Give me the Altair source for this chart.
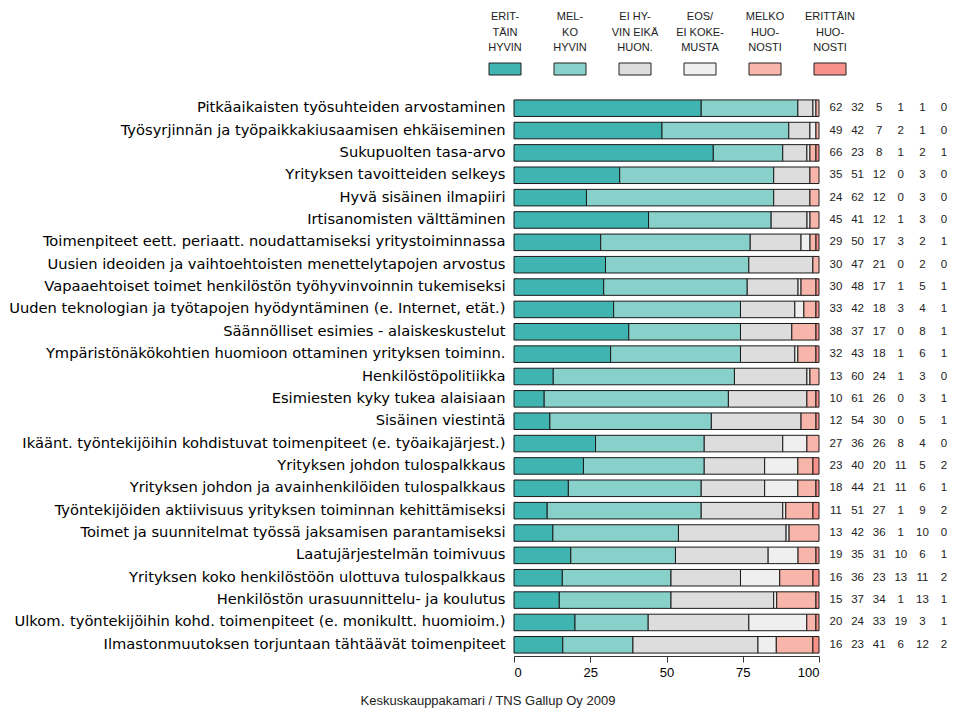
import altair as alt
import pandas as pd

labels = [
    "Pitkäaikaisten työsuhteiden arvostaminen",
    "Työsyrjinnän ja työpaikkakiusaamisen ehkäiseminen",
    "Sukupuolten tasa-arvo",
    "Yrityksen tavoitteiden selkeys",
    "Hyvä sisäinen ilmapiiri",
    "Irtisanomisten välttäminen",
    "Toimenpiteet eett. periaatt. noudattamiseksi yritystoiminnassa",
    "Uusien ideoiden ja vaihtoehtoisten menettelytapojen arvostus",
    "Vapaaehtoiset toimet henkilöstön työhyvinvoinnin tukemiseksi",
    "Uuden teknologian ja työtapojen hyödyntäminen (e. Internet, etät.)",
    "Säännölliset esimies - alaiskeskustelut",
    "Ympäristönäkökohtien huomioon ottaminen yrityksen toiminn.",
    "Henkilöstöpolitiikka",
    "Esimiesten kyky tukea alaisiaan",
    "Sisäinen viestintä",
    "Ikäänt. työntekijöihin kohdistuvat toimenpiteet (e. työaikajärjest.)",
    "Yrityksen johdon tulospalkkaus",
    "Yrityksen johdon ja avainhenkilöiden tulospalkkaus",
    "Työntekijöiden aktiivisuus yrityksen toiminnan kehittämiseksi",
    "Toimet ja suunnitelmat työssä jaksamisen parantamiseksi",
    "Laatujärjestelmän toimivuus",
    "Yrityksen koko henkilöstöön ulottuva tulospalkkaus",
    "Henkilöstön urasuunnittelu- ja koulutus",
    "Ulkom. työntekijöihin kohd. toimenpiteet (e. monikultt. huomioim.)",
    "Ilmastonmuutoksen torjuntaan tähtäävät toimenpiteet",
]

categories = ["Erittäin hyvin", "Melko hyvin", "Ei hyvin eikä huonosti",
              "EOS / ei kokemusta", "Melko huonosti", "Erittäin huonosti"]
legend_labels = ["ERIT-\nTÄIN\nHYVIN", "MEL-\nKO\nHYVIN", "EI HY-\nVIN EIKÄ\nHUON.",
                 "EOS/\nEI KOKE-\nMUSTA", "MELKO\nHUO-\nNOSTI", "ERITTÄIN\nHUO-\nNOSTI"]
colors = ["#40b4b0", "#88d0ca", "#dddddd", "#efefef", "#f8b6aa", "#f7918a"]

erittain_hyvin = [62, 49, 66, 35, 24, 45, 29, 30, 30, 33, 38, 32, 13, 10, 12, 27, 23, 18, 11, 13, 19, 16, 15, 20, 16]
melko_hyvin = [32, 42, 23, 51, 62, 41, 50, 47, 48, 42, 37, 43, 60, 61, 54, 36, 40, 44, 51, 42, 35, 36, 37, 24, 23]
ei_hyvin_eika_huonosti = [5, 7, 8, 12, 12, 12, 17, 21, 17, 18, 17, 18, 24, 26, 30, 26, 20, 21, 27, 36, 31, 23, 34, 33, 41]
eos = [1, 2, 1, 0, 0, 1, 3, 0, 1, 3, 0, 1, 1, 0, 0, 8, 11, 11, 1, 1, 10, 13, 1, 19, 6]
melko_huonosti = [1, 1, 2, 3, 3, 3, 2, 2, 5, 4, 8, 6, 3, 3, 5, 4, 5, 6, 9, 10, 6, 11, 13, 3, 12]
erittain_huonosti = [0, 0, 1, 0, 0, 0, 1, 0, 1, 1, 1, 1, 0, 1, 1, 0, 2, 1, 2, 0, 1, 2, 1, 1, 2]

series = [erittain_hyvin, melko_hyvin, ei_hyvin_eika_huonosti, eos, melko_huonosti, erittain_huonosti]

rows = []
for i, lab in enumerate(labels):
    for j, cat in enumerate(categories):
        rows.append({"label": lab, "cat": cat, "ci": j, "value": series[j][i]})
df = pd.DataFrame(rows)
leg_df = pd.DataFrame({"cat": categories, "lab": legend_labels})

FONT = "Liberation Sans"
LABEL_FONT = "DejaVu Sans"
NARROW = "Liberation Sans Narrow, Liberation Sans"

color_scale = alt.Scale(domain=categories, range=colors)
y_axis = alt.Axis(title=None, domain=False, ticks=False, labelFontSize=14.7, labelLimit=1000,
                  labelPadding=9, labelColor="#000", labelFont=LABEL_FONT)
y_enc = alt.Y("label:N", sort=labels, axis=y_axis,
              scale=alt.Scale(paddingInner=0.26, paddingOuter=0.13))

bars = alt.Chart(df).transform_filter("datum.value > 0").mark_bar(
    stroke="#1a1a1a", strokeWidth=1
).encode(
    y=y_enc,
    x=alt.X("value:Q", stack="normalize", scale=alt.Scale(domain=[0, 1], nice=False),
            axis=alt.Axis(title=None, values=[0, 0.25, 0.5, 0.75, 1], grid=False,
                          labelExpr="format(datum.value * 100, 'd')",
                          labelFontSize=13, labelFont=FONT, labelColor="#000",
                          domainColor="#333", tickColor="#333", tickSize=6, labelPadding=4)),
    color=alt.Color("cat:N", scale=color_scale, legend=None),
    order=alt.Order("ci:Q"),
)

nums = alt.Chart(df).mark_text(fontSize=11.5, font=FONT, color="#222").encode(
    y=y_enc,
    x=alt.X("ci:O", scale=alt.Scale(type="point", range=[322, 430], padding=0), axis=None),
    text="value:Q",
)

leg_x = alt.X("cat:N", sort=categories, scale=alt.Scale(type="point", range=[-9, 316], padding=0), axis=None)

leg_text = alt.Chart(leg_df).mark_text(
    lineBreak="\n", baseline="top", fontSize=11, lineHeight=15.5, font=NARROW, color="#222"
).encode(x=leg_x, y=alt.value(-86), text="lab:N")

leg_sw = alt.Chart(leg_df).mark_point(
    shape="M-1,-0.375L1,-0.375L1,0.375L-1,0.375Z", size=1024, filled=True,
    stroke="#222", strokeWidth=1, opacity=1
).encode(x=leg_x, y=alt.value(-28), color=alt.Color("cat:N", scale=color_scale, legend=None))

chart = alt.layer(bars, nums, leg_text, leg_sw).resolve_scale(
    x="independent"
).properties(
    width=305, height=559,
    padding={"left": 0, "top": 3, "right": 0, "bottom": 0},
    title=alt.TitleParams("Keskuskauppakamari / TNS Gallup Oy 2009", orient="bottom",
                          anchor="middle", frame="bounds", fontSize=13, fontWeight="normal",
                          font=FONT, color="#222", offset=16, dx=10),
).configure_view(stroke=None)

chart.save("out.html", embed_options={"renderer": "svg", "actions": False})
